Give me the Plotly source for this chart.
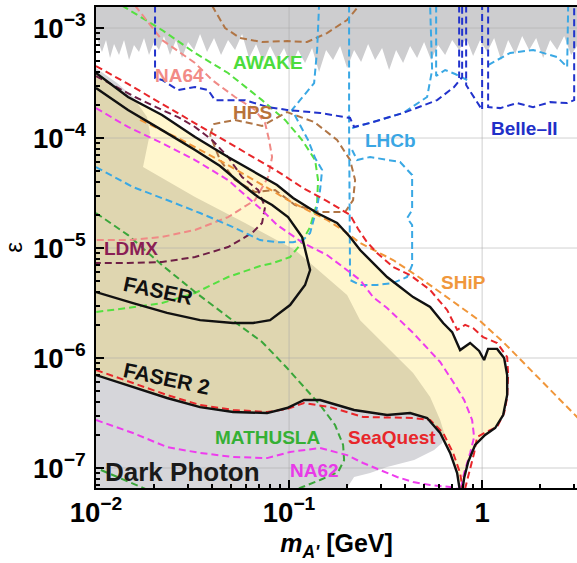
import numpy as np
import plotly.graph_objects as go

# ---------------- data: dark-photon mass m_A' [GeV] and kinetic mixing epsilon ----------------
# existing constraints (upper band, jagged edge)
top_m = [0.0100, 0.01074, 0.01127, 0.01182, 0.0124, 0.01316, 0.01397, 0.01483, 0.01573, 0.0167,
         0.01773, 0.01882, 0.01997, 0.0212, 0.0225, 0.02417, 0.02597, 0.0279, 0.02997, 0.0322,
         0.03459, 0.03759, 0.04087, 0.04443, 0.0483, 0.05251, 0.05709, 0.06206, 0.06745, 0.07333,
         0.07973, 0.08666, 0.09421, 0.1024, 0.1113, 0.121, 0.1316, 0.143, 0.1555, 0.169,
         0.1838, 0.1998, 0.2172, 0.2361, 0.2567, 0.279, 0.3033, 0.3297, 0.3584, 0.3896,
         0.4236, 0.4604, 0.5005, 0.5441, 0.5916, 0.6433, 0.6995, 0.7602, 0.8264, 0.8981,
         0.976, 1.061, 1.154, 1.254, 1.364, 1.483, 1.612, 1.752, 1.905, 2.07,
         2.251, 2.447, 2.66, 2.891, 3.2]
top_eps = [8.46e-4, 6.05e-4, 7.78e-4, 5.34e-4, 7.15e-4, 5.68e-4, 7.78e-4, 5.12e-4, 7.0e-4, 6.05e-4,
           8.11e-4, 5.68e-4, 7.46e-4, 6.31e-4, 8.46e-4, 5.68e-4, 7.78e-4, 5.34e-4, 7.46e-4, 6.31e-4,
           8.82e-4, 6.05e-4, 8.11e-4, 5.68e-4, 7.78e-4, 6.31e-4, 8.82e-4, 5.34e-4, 7.15e-4, 4.91e-4,
           6.86e-4, 5.12e-4, 6.58e-4, 4.51e-4, 6.31e-4, 4.81e-4, 6.58e-4, 3.98e-4, 6.31e-4, 5.12e-4,
           6.86e-4, 4.33e-4, 6.31e-4, 4.91e-4, 7.15e-4, 5.12e-4, 6.58e-4, 4.15e-4, 6.31e-4, 4.81e-4,
           6.86e-4, 5.34e-4, 7.46e-4, 5.12e-4, 7.0e-4, 5.68e-4, 7.78e-4, 6.31e-4, 8.11e-4, 5.57e-4,
           7.78e-4, 6.05e-4, 8.11e-4, 5.12e-4, 7.78e-4, 5.8e-4, 8.46e-4, 6.31e-4, 8.11e-4, 5.34e-4,
           7.78e-4, 6.31e-4, 8.46e-4, 5.68e-4, 7.46e-4]
top_ceiling = 3e-3

# existing constraints (beam dump, lower band)
bd_m = [0.01, 0.01285, 0.01555, 0.01838, 0.01905, 0.01752, 0.03258, 0.05916, 0.1074, 0.1998,
        0.2333, 0.3219, 0.4391, 0.5378, 0.6061, 0.6357, 0.6207, 0.5641, 0.4444, 0.3219,
        0.2628, 0.2172, 0.1928, 0.01]
bd_eps = [4.33e-4, 3.16e-4, 2.36e-4, 1.55e-4, 1.11e-4, 5.45e-5, 2.91e-5, 1.69e-5, 9.59e-6, 3.74e-6,
          2.21e-6, 1.26e-6, 7.3e-7, 4.42e-7, 2.73e-7, 2.08e-7, 1.69e-7, 1.46e-7, 1.18e-7, 1.02e-7,
          9.0e-8, 8.28e-8, 6.0e-8, 6.0e-8]

# FASER 2 sensitivity: upper and lower contours
f2_up_m = [0.01, 0.01465, 0.02198, 0.03258, 0.0483, 0.07076, 0.08666, 0.1049, 0.1397, 0.1773,
           0.207, 0.2333, 0.2724, 0.3219, 0.3758, 0.4391, 0.5378, 0.6282, 0.6995, 0.7691,
           0.8666, 0.965, 1.024, 1.074, 1.196, 1.3, 1.348, 1.348, 1.285, 1.168,
           1.036, 0.92, 0.846, 0.807, 0.788]
f2_up_eps = [3.9e-4, 2.36e-4, 1.62e-4, 1.02e-4, 6.72e-5, 4.61e-5, 3.74e-5, 2.85e-5, 2.08e-5, 1.69e-5,
             1.26e-5, 9.59e-6, 7.3e-6, 5.45e-6, 4.42e-6, 3.58e-6, 2.91e-6, 2.08e-6, 1.72e-6, 1.18e-6,
             1.37e-6, 1.16e-6, 9.59e-7, 1.21e-6, 1.21e-6, 1.0e-6, 7.0e-7, 4.61e-7, 3.03e-7, 2.31e-7,
             2.0e-7, 1.62e-7, 1.13e-7, 8.11e-8, 6.0e-8]
f2_lo_m = [0.01, 0.01555, 0.02333, 0.03459, 0.05127, 0.07692, 0.09763, 0.1196, 0.1448, 0.1773,
           0.2172, 0.3219, 0.4236, 0.5188, 0.6061, 0.6828, 0.7422, 0.7691]
f2_lo_eps = [7.0e-7, 5.45e-7, 4.33e-7, 3.58e-7, 3.23e-7, 3.16e-7, 3.51e-7, 4.15e-7, 4.15e-7, 3.74e-7,
             3.37e-7, 3.03e-7, 3.16e-7, 2.85e-7, 2.08e-7, 1.37e-7, 9.0e-8, 6.0e-8]

# FASER sensitivity contour
faser_m = [0.01, 0.01465, 0.02198, 0.03258, 0.04391, 0.05574, 0.0691, 0.08166, 0.09881, 0.1168,
           0.1285, 0.121, 0.1012, 0.09309, 0.07973, 0.06511, 0.05127, 0.03459, 0.02333, 0.01555, 0.01]
faser_eps = [2.85e-4, 1.80e-4, 1.18e-4, 7.78e-5, 5.57e-5, 3.9e-5, 2.91e-5, 2.46e-5, 1.91e-5, 1.26e-5,
             6.31e-6, 4.61e-6, 3.03e-6, 2.73e-6, 2.21e-6, 2.08e-6, 2.08e-6, 2.21e-6, 2.57e-6, 3.16e-6, 3.98e-6]

# SeaQuest
seaquest_up_m = [0.01, 0.01465, 0.02198, 0.03258, 0.0483, 0.07247, 0.08666, 0.1182, 0.1573, 0.207,
                 0.2278, 0.2506, 0.2857, 0.3458, 0.4236, 0.5378, 0.6589, 0.7422, 0.8166, 0.8981,
                 1.012, 1.196, 1.348, 1.364, 1.348, 1.3, 1.196, 1.024, 0.9421, 0.9089, 0.8563, 0.8069]
seaquest_up_eps = [4.51e-4, 3.1e-4, 2.04e-4, 1.37e-4, 9.2e-5, 6.05e-5, 5.01e-5, 3.51e-5, 2.67e-5, 2.0e-5,
                   1.49e-5, 1.16e-5, 9.0e-6, 6.72e-6, 5.68e-6, 4.15e-6, 2.73e-6, 1.80e-6, 2.0e-6, 1.87e-6,
                   1.55e-6, 1.37e-6, 1.02e-6, 7.0e-7, 4.42e-7, 3.16e-7, 2.36e-7, 2.08e-7, 1.91e-7, 1.37e-7, 9.0e-8, 6.0e-8]
seaquest_lo_m = [0.01, 0.01555, 0.02333, 0.03459, 0.05127, 0.07692, 0.09763, 0.1196, 0.163, 0.2418,
                 0.4391, 0.5378, 0.6282, 0.7076, 0.7691, 0.7972]
seaquest_lo_eps = [7.78e-7, 5.93e-7, 4.61e-7, 3.74e-7, 3.37e-7, 3.23e-7, 3.44e-7, 3.9e-7, 3.58e-7, 2.91e-7,
                   2.85e-7, 2.73e-7, 2.08e-7, 1.37e-7, 9.0e-8, 6.0e-8]

# SHiP
ship_m = [0.0169, 0.0266, 0.0483, 0.07247, 0.1049, 0.1573, 0.1998, 0.2333, 0.3458, 0.4774,
          0.6589, 0.976, 1.3, 1.928, 3.2]
ship_eps = [1.46e-4, 1.0e-4, 5.68e-5, 3.74e-5, 2.57e-5, 1.80e-5, 1.37e-5, 1.11e-5, 7.78e-6, 5.34e-6,
            3.58e-6, 2.17e-6, 1.37e-6, 6.72e-7, 2.75e-7]

# NA62
na62_up_m = [0.01, 0.01465, 0.02198, 0.03258, 0.0483, 0.07247, 0.08666, 0.1182, 0.1573, 0.1905,
             0.2333, 0.2724, 0.3219, 0.4391, 0.6061, 0.7247, 0.8069, 0.8875, 0.9089, 0.8666, 0.8069, 0.7691]
na62_up_eps = [1.87e-4, 1.26e-4, 9.0e-5, 6.31e-5, 4.15e-5, 2.21e-5, 1.62e-5, 1.11e-5, 8.64e-6, 6.72e-6,
               5.12e-6, 3.58e-6, 2.85e-6, 1.69e-6, 9.2e-7, 5.68e-7, 4.15e-7, 2.73e-7, 1.91e-7, 1.37e-7, 9.0e-8, 6.0e-8]
na62_lo_m = [0.01, 0.01555, 0.02333, 0.03459, 0.05127, 0.07692, 0.1012, 0.1196, 0.1448, 0.1998,
             0.2418, 0.2961, 0.3627, 0.4391, 0.5378, 0.6828, 0.7691]
na62_lo_eps = [2.73e-7, 2.08e-7, 1.55e-7, 1.37e-7, 1.26e-7, 1.23e-7, 1.40e-7, 1.46e-7, 1.52e-7, 1.31e-7,
               1.11e-7, 9.59e-8, 8.28e-8, 7.46e-8, 7.0e-8, 6.72e-8, 6.4e-8]

# LHCb
lhcb_a_m = [0.01, 0.01555, 0.02333, 0.03459, 0.05127, 0.07076, 0.08666, 0.1049, 0.1182, 0.1285,
            0.1397, 0.1448, 0.1483, 0.1364, 0.1254, 0.1036, 0.114, 0.1348, 0.1397, 0.143]
lhcb_a_eps = [5.45e-5, 3.58e-5, 2.73e-5, 2.08e-5, 1.55e-5, 1.18e-5, 1.13e-5, 1.13e-5, 1.18e-5, 1.37e-5,
              2.36e-5, 3.37e-5, 5.12e-5, 6.58e-5, 9.59e-5, 1.80e-4, 2.21e-4, 3.16e-4, 6.31e-4, 1.6e-3]
lhcb_b_m = [0.2046, 0.2046, 0.207, 0.2333, 0.2857, 0.3458, 0.4087, 0.4339, 0.4339, 0.4087,
            0.4339, 0.4339, 0.3758, 0.2628, 0.2251, 0.2121]
lhcb_b_eps = [1.6e-3, 1.31e-4, 5.12e-6, 4.61e-6, 4.61e-6, 4.81e-6, 5.45e-6, 7.0e-6, 1.62e-5, 1.87e-5,
              2.21e-5, 4.61e-5, 6.05e-5, 6.72e-5, 6.31e-5, 7.78e-5]
lhcb_c_m = [0.2121, 0.2628, 0.3896, 0.5188, 0.5508, 0.5378]
lhcb_c_eps = [1.23e-4, 1.37e-4, 1.69e-4, 2.36e-4, 4.15e-4, 1.6e-3]
lhcb_d_m = [0.5778, 0.5778, 0.6433, 0.7247, 0.8363]
lhcb_d_eps = [1.6e-3, 3.66e-4, 4.15e-4, 3.82e-4, 3.37e-4]
lhcb_e_m = [1.074, 1.397, 1.838, 2.447, 2.757, 2.79]
lhcb_e_eps = [4.61e-4, 5.93e-4, 6.31e-4, 5.45e-4, 4.42e-4, 1.6e-3]

# Belle-II
belle_a_m = [0.02022, 0.02022, 0.02198, 0.0266, 0.03258, 0.03805, 0.04136, 0.05916, 0.07785, 0.09763,
             0.1448, 0.207, 0.2172, 0.2628, 0.3896, 0.5847, 0.7161, 0.7878, 0.7878]
belle_a_eps = [1.6e-3, 3.51e-4, 3.37e-4, 2.73e-4, 2.91e-4, 2.73e-4, 2.21e-4, 2.21e-4, 1.91e-4, 1.80e-4,
               1.69e-4, 1.52e-4, 1.26e-4, 1.37e-4, 1.69e-4, 2.21e-4, 2.91e-4, 3.58e-4, 1.6e-3]
belle_b_m = [0.8264, 0.8264, 1.0, 1.0]
belle_b_eps = [1.6e-3, 3.03e-4, 1.80e-4, 1.6e-3]
belle_c_m = [1.074, 1.074, 1.24, 1.518, 1.838, 2.251, 2.757, 2.997, 2.997]
belle_c_eps = [1.6e-3, 1.91e-4, 1.87e-4, 2.08e-4, 1.91e-4, 2.12e-4, 2.08e-4, 2.21e-4, 1.6e-3]
belle_d_m = [0.7602, 0.7602]
belle_d_eps = [1.6e-3, 3.51e-4]

# HPS
hps_a_m = [0.0399, 0.04661, 0.05574, 0.07247, 0.09763, 0.124, 0.1573, 0.1998, 0.2251]
hps_a_eps = [1.6e-3, 1.0e-3, 8.11e-4, 7.46e-4, 7.62e-4, 7.46e-4, 9.0e-4, 1.183e-3, 1.52e-3]
hps_b_m = [0.03897, 0.04087, 0.05251, 0.07247, 0.09763, 0.1348, 0.1773, 0.207, 0.2198, 0.2146,
           0.1951, 0.1448, 0.1074, 0.08463, 0.06667, 0.05251, 0.04391, 0.03897]
hps_b_eps = [1.065e-4, 1.34e-4, 1.46e-4, 1.29e-4, 1.72e-4, 1.40e-4, 9.59e-5, 6.31e-5, 4.15e-5, 2.73e-5,
             2.12e-5, 2.12e-5, 2.46e-5, 3.37e-5, 3.23e-5, 4.15e-5, 6.31e-5, 1.065e-4]

# NA64
na64_m = [0.01593, 0.01905, 0.02198, 0.03258, 0.0399, 0.05251, 0.06667, 0.0751, 0.07879, 0.08166,
          0.07785, 0.06667, 0.0483, 0.03258, 0.02198, 0.01465, 0.01]
na64_eps = [1.6e-3, 1.065e-3, 7.78e-4, 4.81e-4, 3.37e-4, 2.36e-4, 1.80e-4, 1.37e-4, 9.59e-5, 6.72e-5,
            4.42e-5, 2.73e-5, 1.91e-5, 1.46e-5, 1.26e-5, 1.18e-5, 1.18e-5]

# LDMX
ldmx_m = [0.01, 0.01363, 0.01593, 0.02198, 0.0266, 0.03258, 0.0399, 0.0483, 0.05709, 0.0691,
          0.0751, 0.07247, 0.06433, 0.0483, 0.03258, 0.02198, 0.01465, 0.01]
ldmx_eps = [3.66e-4, 2.73e-4, 2.36e-4, 1.80e-4, 1.55e-4, 1.26e-4, 9.59e-5, 6.72e-5, 4.42e-5, 3.37e-5,
            2.36e-5, 1.69e-5, 1.37e-5, 1.02e-5, 8.28e-6, 7.46e-6, 7.3e-6, 7.3e-6]

# MATHUSLA
mathusla_m = [0.01, 0.01465, 0.02198, 0.03258, 0.0483, 0.07247, 0.09763, 0.1196, 0.1448, 0.1731,
              0.1905, 0.1928, 0.1795, 0.1448, 0.114, 0.105]
mathusla_eps = [2.08e-5, 1.31e-5, 7.0e-6, 3.98e-6, 2.36e-6, 1.40e-6, 8.11e-7, 5.45e-7, 3.74e-7, 2.46e-7,
                1.62e-7, 1.18e-7, 9.2e-8, 7.78e-8, 6.58e-8, 6.0e-8]
mathusla_b_m = [0.0106, 0.019]
mathusla_b_eps = [9.6e-8, 6.2e-8]

# AWAKE
awake_m = [0.01363, 0.02198, 0.03258, 0.0483, 0.07247, 0.09535, 0.1168, 0.1364, 0.1413, 0.1397,
           0.1285, 0.114, 0.1012, 0.08264, 0.07076, 0.0483, 0.03258, 0.02198, 0.01465, 0.01]
awake_eps = [1.6e-3, 9.59e-4, 5.93e-4, 3.9e-4, 2.21e-4, 1.46e-4, 9.59e-5, 6.31e-5, 4.15e-5, 2.57e-5,
             1.55e-5, 1.065e-5, 8.28e-6, 7.3e-6, 6.86e-6, 5.45e-6, 3.9e-6, 3.16e-6, 2.85e-6, 2.62e-6]

x_decades = [0.1, 1.0]
y_decades = [1e-7, 1e-6, 1e-5, 1e-4, 1e-3]
x_lim = [0.01, 3.1]
y_lim = [6.58e-8, 1.553e-3]

# ---------------- figure ----------------
FONT = "Liberation Sans, Arial, Helvetica, sans-serif"
DASH = "7px,4px"
fig = go.Figure()

# upper gray band
fig.add_trace(go.Scatter(x=top_m + [top_m[-1], top_m[0]], y=top_eps + [top_ceiling, top_ceiling],
                         fill="toself", fillcolor="#cdcdcf", line=dict(width=0), mode="lines",
                         hoverinfo="skip"))
# lower gray band
fig.add_trace(go.Scatter(x=bd_m, y=bd_eps, fill="toself", fillcolor="#d6d6da",
                         line=dict(width=0), mode="lines", hoverinfo="skip"))
# FASER 2 sensitivity region (yellow)
fig.add_trace(go.Scatter(x=f2_up_m + f2_lo_m[::-1], y=f2_up_eps + f2_lo_eps[::-1],
                         fill="toself", fillcolor="rgba(255,214,40,0.23)",
                         line=dict(width=0), mode="lines", hoverinfo="skip"))

# grid lines
for gx in x_decades:
    fig.add_trace(go.Scatter(x=[gx, gx], y=y_lim, mode="lines",
                             line=dict(color="rgba(170,170,170,0.55)", width=1), hoverinfo="skip"))
for gy in y_decades:
    fig.add_trace(go.Scatter(x=x_lim, y=[gy, gy], mode="lines",
                             line=dict(color="rgba(170,170,170,0.55)", width=1), hoverinfo="skip"))


def dashed(m, eps, color, width=2.0):
    fig.add_trace(go.Scatter(x=m, y=eps, mode="lines",
                             line=dict(color=color, width=width, dash=DASH), hoverinfo="skip"))


C_RED = "#e8262a"
C_ORANGE = "#f0963a"
C_MAG = "#ee3cee"
C_CYAN = "#3aa8e4"
C_BLUE = "#2233cc"
C_BROWN = "#b07545"
C_SALMON = "#f08a86"
C_LDMX = "#6e1f45"
C_MATH = "#3aa63a"
C_AWAKE = "#55e040"

dashed(awake_m, awake_eps, C_AWAKE)
dashed(mathusla_m, mathusla_eps, C_MATH)
dashed(mathusla_b_m, mathusla_b_eps, C_MATH)
dashed(hps_a_m, hps_a_eps, C_BROWN)
dashed(hps_b_m, hps_b_eps, C_BROWN)
dashed(na64_m, na64_eps, C_SALMON)
dashed(ldmx_m, ldmx_eps, C_LDMX)
dashed(lhcb_a_m, lhcb_a_eps, C_CYAN)
dashed(lhcb_b_m, lhcb_b_eps, C_CYAN)
dashed(lhcb_c_m, lhcb_c_eps, C_CYAN)
dashed(lhcb_d_m, lhcb_d_eps, C_CYAN)
dashed(lhcb_e_m, lhcb_e_eps, C_CYAN)
dashed(belle_a_m, belle_a_eps, C_BLUE)
dashed(belle_b_m, belle_b_eps, C_BLUE)
dashed(belle_c_m, belle_c_eps, C_BLUE)
dashed(belle_d_m, belle_d_eps, C_BLUE)
dashed(na62_up_m, na62_up_eps, C_MAG)
dashed(na62_lo_m, na62_lo_eps, C_MAG)
dashed(ship_m, ship_eps, C_ORANGE)
dashed(seaquest_up_m, seaquest_up_eps, C_RED)
dashed(seaquest_lo_m, seaquest_lo_eps, C_RED)

# solid black FASER / FASER 2 contours
for m, e in [(f2_up_m, f2_up_eps), (f2_lo_m, f2_lo_eps), (faser_m, faser_eps)]:
    fig.add_trace(go.Scatter(x=m, y=e, mode="lines", line=dict(color="#111111", width=2.4),
                             hoverinfo="skip"))


def label(text, m, eps, color, size=19, angle=0):
    fig.add_annotation(x=np.log10(m), y=np.log10(eps), xref="x", yref="y",
                       text="<b>" + text + "</b>", showarrow=False, textangle=angle,
                       font=dict(family=FONT, size=size, color=color))


label("AWAKE", 0.0779, 4.91e-4, "#4cdc3c")
label("NA64", 0.0272, 3.74e-4, "#f28b86")
label("HPS", 0.0643, 1.69e-4, "#b8733a")
label("LHCb", 0.334, 9.4e-5, "#3aa6e4")
label("Belle\u2013II", 1.65, 1.23e-4, "#1f30c8")
label("LDMX", 0.0152, 1.0e-5, "#8a1f55")
label("FASER", 0.0210, 4.07e-6, "#111111", size=21, angle=12)
label("FASER 2", 0.0233, 6.58e-7, "#111111", size=21, angle=12)
label("SHiP", 0.797, 4.81e-6, "#f0983c")
label("MATHUSLA", 0.0769, 1.91e-7, "#35b035")
label("SeaQuest", 0.342, 1.91e-7, "#e8262a")
label("NA62", 0.1348, 9.4e-8, "#e83ae8")
label("Dark Photon", 0.0279, 9.2e-8, "#1a1a1a", size=26)

tickfont = dict(family=FONT, size=22, color="black", weight="bold")
axis_common = dict(type="log", showline=True, linecolor="black", linewidth=2,
                   ticks="inside", ticklen=8, tickwidth=1.5, tickcolor="black",
                   dtick=1, exponentformat="power", tickfont=tickfont,
                   showgrid=False, zeroline=False, layer="above traces",
                   minor=dict(ticks="inside", ticklen=4, tickcolor="black", dtick="D1", showgrid=False))

fig.update_layout(
    width=577, height=563,
    margin=dict(l=96, r=0, t=7, b=75),
    paper_bgcolor="white", plot_bgcolor="white",
    showlegend=False,
    xaxis=dict(range=[np.log10(x_lim[0]), np.log10(x_lim[1])], mirror=True,
               title=dict(text="<b><i>m</i><sub><i>A'</i></sub> [GeV]</b>",
                          font=dict(family=FONT, size=25, color="black"), standoff=8),
               ticklabelstandoff=0, **axis_common),
    yaxis=dict(range=[np.log10(y_lim[0]), np.log10(y_lim[1])],
               title=dict(text="\u03b5", font=dict(family=FONT, size=24, color="black"), standoff=14),
               ticklabelstandoff=4, **axis_common),
)

fig.write_html("out.html")
